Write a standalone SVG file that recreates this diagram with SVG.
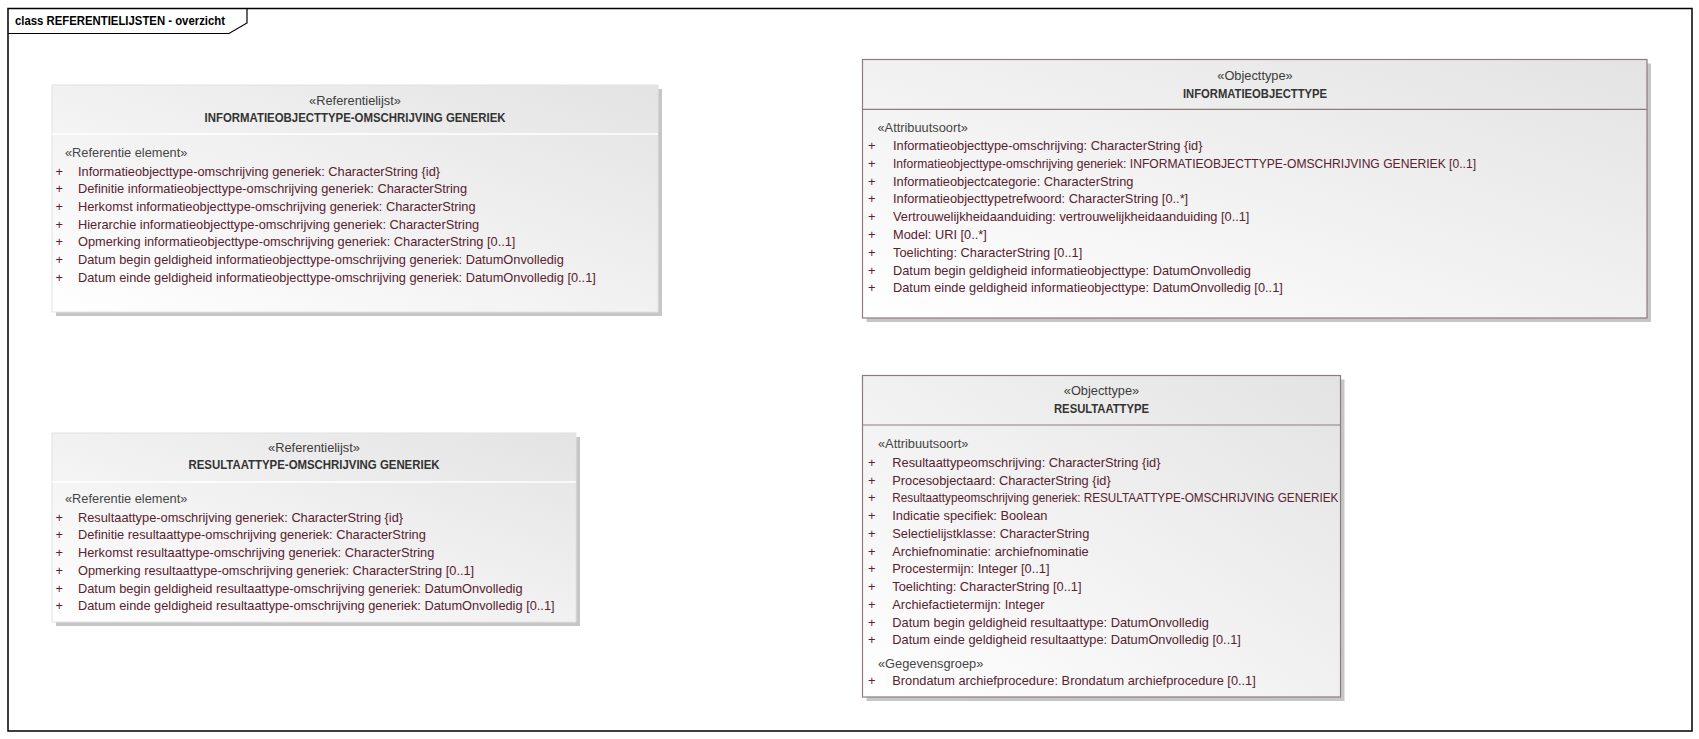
<svg xmlns="http://www.w3.org/2000/svg" width="1699" height="739" viewBox="0 0 1699 739">
<defs>
<linearGradient id="gFill" x1="0" y1="1" x2="1" y2="0">
<stop offset="0" stop-color="#ffffff"/>
<stop offset="1" stop-color="#e3e3e3"/>
</linearGradient>
<style>
.frame{fill:#ffffff;stroke:#000000;stroke-width:1.5}
.tab{fill:none;stroke:#000000;stroke-width:1.2}
.title{font-family:"Liberation Sans",Arial,sans-serif;font-size:12px;font-weight:bold;fill:#000000}
.shadow{fill:#c6c6c6}
.refbox{fill:url(#gFill);stroke:#e2e2e2;stroke-width:1}
.refsep{stroke:#ffffff;stroke-width:1.5}
.objbox{fill:url(#gFill);stroke:#8c7c7e;stroke-width:1.2}
.objsep{stroke:#8c7c7e;stroke-width:1.2}
.stereo{font-family:"Liberation Sans",Arial,sans-serif;font-size:12.8px;fill:#3c3c3c;text-anchor:middle}
.name{font-family:"Liberation Sans",Arial,sans-serif;font-size:12.6px;font-weight:bold;fill:#333333;text-anchor:middle}
.sect{font-family:"Liberation Sans",Arial,sans-serif;font-size:12.8px;fill:#454545}
.attr{font-family:"Liberation Sans",Arial,sans-serif;font-size:12.8px;fill:#58222f}
</style>
</defs>

<rect class="frame" x="8" y="8.5" width="1684" height="722.5"/>
<path class="tab" d="M8,33.5 H229 L247,23 V8.5"/>
<text class="title" x="15" y="25" textLength="210" lengthAdjust="spacingAndGlyphs">class REFERENTIELIJSTEN - overzicht</text>

<g id="connectors"></g>

<g id="node-informatieobjecttype-omschrijving-generiek">
<rect class="shadow" x="56" y="89" width="606" height="227"/>
<rect class="refbox" x="52" y="85" width="606" height="227"/>
<line class="refsep" x1="52" y1="134" x2="658" y2="134"/>
<text class="stereo" x="355" y="105">«Referentielijst»</text>
<text class="name" x="355" y="122" textLength="301" lengthAdjust="spacingAndGlyphs">INFORMATIEOBJECTTYPE-OMSCHRIJVING GENERIEK</text>
<text class="sect" x="65" y="157">«Referentie element»</text>
<text class="attr" x="55.5" y="175.5">+</text><text class="attr" x="78" y="175.5">Informatieobjecttype-omschrijving generiek: CharacterString {id}</text>
<text class="attr" x="55.5" y="193.2">+</text><text class="attr" x="78" y="193.2">Definitie informatieobjecttype-omschrijving generiek: CharacterString</text>
<text class="attr" x="55.5" y="210.9">+</text><text class="attr" x="78" y="210.9">Herkomst informatieobjecttype-omschrijving generiek: CharacterString</text>
<text class="attr" x="55.5" y="228.6">+</text><text class="attr" x="78" y="228.6">Hierarchie informatieobjecttype-omschrijving generiek: CharacterString</text>
<text class="attr" x="55.5" y="246.3">+</text><text class="attr" x="78" y="246.3">Opmerking informatieobjecttype-omschrijving generiek: CharacterString [0..1]</text>
<text class="attr" x="55.5" y="264">+</text><text class="attr" x="78" y="264">Datum begin geldigheid informatieobjecttype-omschrijving generiek: DatumOnvolledig</text>
<text class="attr" x="55.5" y="281.7">+</text><text class="attr" x="78" y="281.7">Datum einde geldigheid informatieobjecttype-omschrijving generiek: DatumOnvolledig [0..1]</text>
</g>

<g id="node-resultaattype-omschrijving-generiek">
<rect class="shadow" x="56" y="437" width="524" height="189"/>
<rect class="refbox" x="52" y="433" width="524" height="189"/>
<line class="refsep" x1="52" y1="482" x2="576" y2="482"/>
<text class="stereo" x="314" y="452">«Referentielijst»</text>
<text class="name" x="314" y="468.5" textLength="251" lengthAdjust="spacingAndGlyphs">RESULTAATTYPE-OMSCHRIJVING GENERIEK</text>
<text class="sect" x="65" y="503">«Referentie element»</text>
<text class="attr" x="55.5" y="521.7">+</text><text class="attr" x="78" y="521.7">Resultaattype-omschrijving generiek: CharacterString {id}</text>
<text class="attr" x="55.5" y="539.4">+</text><text class="attr" x="78" y="539.4">Definitie resultaattype-omschrijving generiek: CharacterString</text>
<text class="attr" x="55.5" y="557.1">+</text><text class="attr" x="78" y="557.1">Herkomst resultaattype-omschrijving generiek: CharacterString</text>
<text class="attr" x="55.5" y="574.8">+</text><text class="attr" x="78" y="574.8">Opmerking resultaattype-omschrijving generiek: CharacterString [0..1]</text>
<text class="attr" x="55.5" y="592.5">+</text><text class="attr" x="78" y="592.5">Datum begin geldigheid resultaattype-omschrijving generiek: DatumOnvolledig</text>
<text class="attr" x="55.5" y="610.2">+</text><text class="attr" x="78" y="610.2">Datum einde geldigheid resultaattype-omschrijving generiek: DatumOnvolledig [0..1]</text>
</g>

<g id="node-informatieobjecttype">
<rect class="shadow" x="866.5" y="63.5" width="784.5" height="258.5"/>
<rect class="objbox" x="862.5" y="59.5" width="784.5" height="258.5"/>
<line class="objsep" x1="862.5" y1="109.3" x2="1647" y2="109.3"/>
<text class="stereo" x="1255" y="79.5">«Objecttype»</text>
<text class="name" x="1255" y="97.7" textLength="144" lengthAdjust="spacingAndGlyphs">INFORMATIEOBJECTTYPE</text>
<text class="sect" x="877.5" y="131.7">«Attribuutsoort»</text>
<text class="attr" x="868" y="150">+</text><text class="attr" x="893" y="150">Informatieobjecttype-omschrijving: CharacterString {id}</text>
<text class="attr" x="868" y="167.8">+</text><text class="attr" x="893" y="167.8" textLength="583" lengthAdjust="spacingAndGlyphs">Informatieobjecttype-omschrijving generiek: INFORMATIEOBJECTTYPE-OMSCHRIJVING GENERIEK [0..1]</text>
<text class="attr" x="868" y="185.6">+</text><text class="attr" x="893" y="185.6">Informatieobjectcategorie: CharacterString</text>
<text class="attr" x="868" y="203.4">+</text><text class="attr" x="893" y="203.4">Informatieobjecttypetrefwoord: CharacterString [0..*]</text>
<text class="attr" x="868" y="221.2">+</text><text class="attr" x="893" y="221.2">Vertrouwelijkheidaanduiding: vertrouwelijkheidaanduiding [0..1]</text>
<text class="attr" x="868" y="239">+</text><text class="attr" x="893" y="239">Model: URI [0..*]</text>
<text class="attr" x="868" y="256.8">+</text><text class="attr" x="893" y="256.8">Toelichting: CharacterString [0..1]</text>
<text class="attr" x="868" y="274.6">+</text><text class="attr" x="893" y="274.6">Datum begin geldigheid informatieobjecttype: DatumOnvolledig</text>
<text class="attr" x="868" y="292.4">+</text><text class="attr" x="893" y="292.4">Datum einde geldigheid informatieobjecttype: DatumOnvolledig [0..1]</text>
</g>

<g id="node-resultaattype">
<rect class="shadow" x="866.5" y="379.5" width="478" height="321.5"/>
<rect class="objbox" x="862.5" y="375.5" width="478" height="321.5"/>
<line class="objsep" x1="862.5" y1="425" x2="1340.5" y2="425"/>
<text class="stereo" x="1101.5" y="395">«Objecttype»</text>
<text class="name" x="1101.5" y="413.3" textLength="95" lengthAdjust="spacingAndGlyphs">RESULTAATTYPE</text>
<text class="sect" x="878" y="448.3">«Attribuutsoort»</text>
<text class="attr" x="868" y="466.7">+</text><text class="attr" x="892.3" y="466.7">Resultaattypeomschrijving: CharacterString {id}</text>
<text class="attr" x="868" y="484.5">+</text><text class="attr" x="892.3" y="484.5">Procesobjectaard: CharacterString {id}</text>
<text class="attr" x="868" y="502.2">+</text><text class="attr" x="892.3" y="502.2" textLength="446" lengthAdjust="spacingAndGlyphs">Resultaattypeomschrijving generiek: RESULTAATTYPE-OMSCHRIJVING GENERIEK</text>
<text class="attr" x="868" y="520">+</text><text class="attr" x="892.3" y="520">Indicatie specifiek: Boolean</text>
<text class="attr" x="868" y="537.7">+</text><text class="attr" x="892.3" y="537.7">Selectielijstklasse: CharacterString</text>
<text class="attr" x="868" y="555.5">+</text><text class="attr" x="892.3" y="555.5">Archiefnominatie: archiefnominatie</text>
<text class="attr" x="868" y="573.3">+</text><text class="attr" x="892.3" y="573.3">Procestermijn: Integer [0..1]</text>
<text class="attr" x="868" y="591">+</text><text class="attr" x="892.3" y="591">Toelichting: CharacterString [0..1]</text>
<text class="attr" x="868" y="608.8">+</text><text class="attr" x="892.3" y="608.8">Archiefactietermijn: Integer</text>
<text class="attr" x="868" y="626.6">+</text><text class="attr" x="892.3" y="626.6">Datum begin geldigheid resultaattype: DatumOnvolledig</text>
<text class="attr" x="868" y="644.3">+</text><text class="attr" x="892.3" y="644.3">Datum einde geldigheid resultaattype: DatumOnvolledig [0..1]</text>
<text class="sect" x="878" y="667.7">«Gegevensgroep»</text>
<text class="attr" x="868" y="685.3">+</text><text class="attr" x="892.3" y="685.3">Brondatum archiefprocedure: Brondatum archiefprocedure [0..1]</text>
</g>
</svg>
